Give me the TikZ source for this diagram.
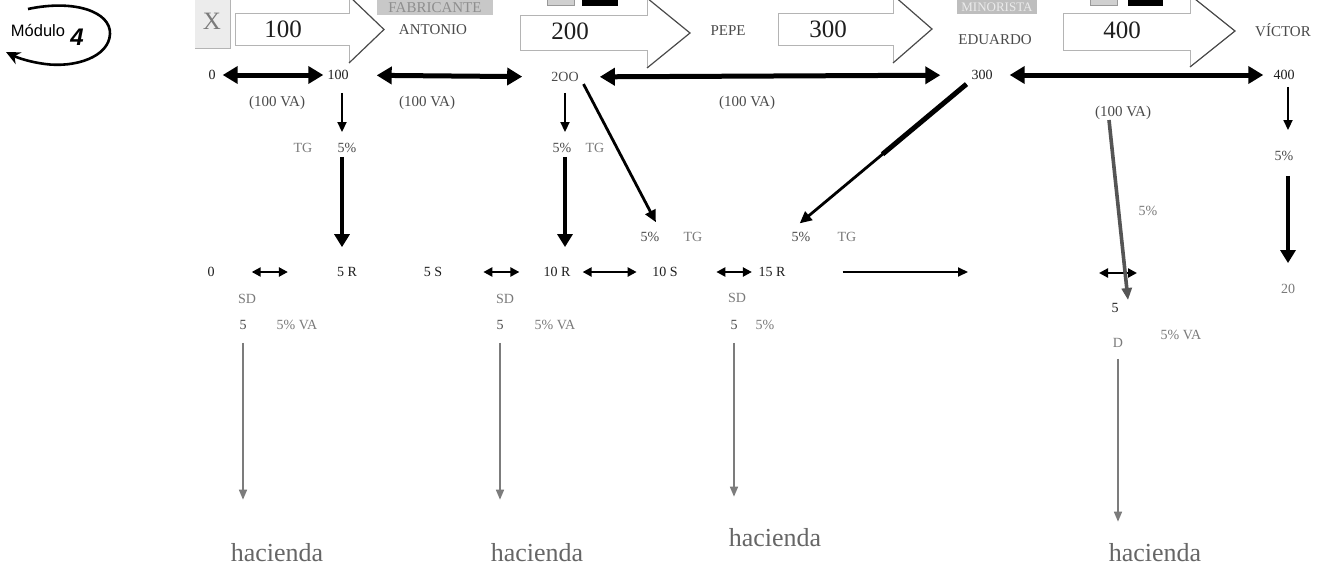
\documentclass[tikz,border=0pt]{standalone}
\usepackage{fontspec}
\setmainfont{Liberation Serif}
\newfontfamily\logofont{Liberation Sans}
\usetikzlibrary{arrows.meta}

\definecolor{ink}{HTML}{1E1E1E}
\definecolor{soft}{HTML}{4A4A4A}
\definecolor{pale}{HTML}{7A7A7A}
\definecolor{rail}{HTML}{7C7C7C}
\definecolor{slab}{HTML}{555555}
\definecolor{boxgray}{HTML}{C8C8C8}
\definecolor{boxedge}{HTML}{B4B4B4}
\definecolor{xfill}{HTML}{ECECEC}
\definecolor{chipedge}{HTML}{999999}
\definecolor{chipfill}{HTML}{D0D0D0}

\tikzset{
  lbl/.style={inner sep=1pt, text=ink, font=\fontsize{14}{16}\selectfont},
  lblsoft/.style={lbl, text=soft},
  lblpale/.style={lbl, text=pale},
  vatxt/.style={lbl, text=soft, font=\fontsize{15}{17}\selectfont},
  numtxt/.style={inner sep=1pt, text=ink, font=\fontsize{25}{27}\selectfont},
  nametxt/.style={inner sep=1pt, text=soft, font=\fontsize{15}{17}\selectfont},
  hac/.style={inner sep=1pt, text=slab!90, font=\fontsize{26}{28}\selectfont},
  bigdbl/.style={line width=5pt, {Triangle[length=15pt,width=17pt]}-{Triangle[length=15pt,width=17pt]}},
  smdbl/.style={line width=2.2pt, {Triangle[length=9pt,width=9pt]}-{Triangle[length=9pt,width=9pt]}},
  thinarr/.style={line width=1.8pt, -{Triangle[length=10pt,width=9pt]}},
  thickarr/.style={line width=4.5pt, -{Triangle[length=13pt,width=15pt]}},
  medarr/.style={line width=2.8pt, -{Triangle[length=12pt,width=11pt]}},
  flatarr/.style={line width=2pt, -{Triangle[length=10pt,width=9pt]}},
  grayarr/.style={draw=rail, line width=1.6pt, -{Triangle[length=10pt,width=8pt]}},
  slant/.style={draw=slab, line width=3.6pt, -{Triangle[length=12pt,width=10pt]}},
  bodyedge/.style={draw=boxedge, line width=1pt},
  headedge/.style={draw=soft, line width=1.2pt},
}

% outline arrow: #1 left, #2 head base, #3 tip x, #4 body top, #5 body bottom, #6 head top, #7 head bottom
\newcommand\OutlineArrow[7]{%
  \fill[white] (#1,#4) -- (#2,#4) -- (#2,#6) -- (#3,{(#6+#7)/2}) -- (#2,#7) -- (#2,#5) -- (#1,#5) -- cycle;
  \draw[bodyedge] (#2,#6) -- (#2,#4) -- (#1,#4) -- (#1,#5) -- (#2,#5) -- (#2,#7);
  \draw[headedge] (#2,#6) -- (#3,{(#6+#7)/2}) -- (#2,#7);
}

\begin{document}
\begin{tikzpicture}[x=1pt,y=-1pt]
\useasboundingbox (0,0) rectangle (1328,570);
\fill[white] (0,0) rectangle (1328,570);

% module badge
\draw[line width=2.6pt, -{Stealth[length=14pt,width=13pt]}]
  (28,9) .. controls (75,-1) and (111,12) .. (110,34)
         .. controls (109,57) and (75,68) .. (45,64)
         .. controls (30,62) and (18,58) .. (6,52);
\node[inner sep=0pt, anchor=base, font=\logofont\fontsize{16.5}{18}\selectfont] (modtxt) at (38,36) {Módulo};
\node[inner sep=0pt, anchor=base, font=\logofont\bfseries\itshape\fontsize{24}{26}\selectfont] (modnum) at (77,45) {4};

% top band: X box, tags and outline arrows
\fill[xfill] (195,-2) rectangle (230,48);
\draw[draw=boxedge] (195,48) -- (230,48) -- (230,-2);
\node[inner sep=0pt, text=pale, font=\fontsize{25}{27}\selectfont] (xmark) at (212,21) {X};

\fill[boxgray] (377,-2) rectangle (493,15);
\node[inner sep=0pt, text=pale!85, font=\fontsize{15}{17}\selectfont] (fab) at (435,8) {FABRICANTE};
\fill[boxgray!95!black] (957,-2) rectangle (1037,14);
\node[inner sep=0pt, text=white!92!black, font=\fontsize{13}{15}\selectfont] (mino) at (997,7) {MINORISTA};

\draw[draw=chipedge, fill=chipfill] (547,-3) rectangle (574,5);
\fill[black] (582,-3) rectangle (618,6);
\draw[draw=chipedge, fill=chipfill] (1090,-3) rectangle (1117,5);
\fill[black] (1128,-3) rectangle (1163,6);

\OutlineArrow{235}{349}{384}{13}{45}{-4}{63}
\OutlineArrow{520}{647}{690}{15}{50}{-2}{68}
\OutlineArrow{778}{893}{932}{13}{45}{-5}{63}
\OutlineArrow{1063}{1190}{1235}{13}{50}{-5}{67}

\node[numtxt] (v100) at (283,29) {100};
\node[numtxt] (v200) at (570,31) {200};
\node[numtxt] (v300) at (828,29) {300};
\node[numtxt] (v400) at (1122,30) {400};

\node[nametxt] (antonio) at (433,30) {ANTONIO};
\node[nametxt] (pepe) at (728,31) {PEPE};
\node[nametxt] (eduardo) at (995,40) {EDUARDO};
\node[nametxt] (victor) at (1283,30) {VÍCTOR};

% value chain row
\node[lbl] (r0) at (212,75) {0};
\node[lbl] (r100) at (338,75) {100};
\node[lblsoft] (r200) at (565,77) {2OO};
\node[lbl] (r300) at (982,75) {300};
\node[lbl] (r400) at (1284,75) {400};

\draw[bigdbl, shorten <=6pt, shorten >=3pt] (r0) -- (r100);
\draw[bigdbl, shorten <=27pt, shorten >=28pt] (r100) -- (r200);
\draw[bigdbl, shorten <=20pt, shorten >=30pt] (r200) -- (r300);
\draw[bigdbl, shorten <=16pt, shorten >=9pt] (r300) -- (r400);

\node[vatxt] (va1) at (277,103) {(100 VA)};
\node[vatxt] (va2) at (427,103) {(100 VA)};
\node[vatxt] (va3) at (747,103) {(100 VA)};
\node[vatxt] (va4) at (1123,113) {(100 VA)};

% tax lines
\coordinate (colA) at (342,0);
\coordinate (colB) at (565,0);
\coordinate (colE) at (1288,0);

\node[lblsoft] (p1) at (347,148) {5\%};
\node[lblpale] (tg1) at (303,148) {TG};
\node[lblsoft] (p2) at (562,148) {5\%};
\node[lblpale] (tg2) at (595,148) {TG};
\node[lblsoft] (p3) at (650,237) {5\%};
\node[lblpale] (tg3) at (693,237) {TG};
\node[lblsoft] (p4) at (801,237) {5\%};
\node[lblpale] (tg4) at (847,237) {TG};
\node[lblpale] (p5) at (1148,211) {5\%};
\node[lblsoft] (p6) at (1284,156) {5\%};
\node[lblpale] (n20) at (1288,289) {20};

% ledger row
\node[lbl] (b0) at (211,272) {0};
\node[lbl] (b5R) at (347,272) {5 R};
\node[lbl] (b5S) at (433,272) {5 S};
\node[lbl] (b10R) at (557,272) {10 R};
\node[lbl] (b10S) at (665,272) {10 S};
\node[lbl] (b15R) at (772,272) {15 R};
\coordinate (runEnd) at (968,272);
\coordinate (swapL) at (1099,273);
\coordinate (swapR) at (1137,273);

\draw[thinarr, shorten <=12pt, shorten >=10pt] (r100.south -| colA) -- (p1.north -| colA);
\draw[thickarr, shorten <=3pt, shorten >=19pt] (p1.south -| colA) -- (b5R.north -| colA);
\draw[thinarr, shorten <=10pt, shorten >=10pt] (r200.south -| colB) -- (p2.north -| colB);
\draw[thickarr, shorten <=3pt, shorten >=19pt] (p2.south -| colB) -- (b10R.north -| colB);
\draw[medarr, shorten <=8pt, shorten >=10pt] (r200.east) -- (p3.north east);
\draw[line width=5pt, shorten <=5pt, shorten >=120pt] (r300.south west) -- (p4.north west);
\draw[medarr, shorten <=5pt, shorten >=12pt] (r300.south west) -- (p4.north west);
\draw[thinarr, shorten <=6pt, shorten >=20pt] (r400.south -| colE) -- (p6.north -| colE);
\draw[thickarr, shorten <=14pt, shorten >=20pt] (p6.south -| colE) -- (n20.north -| colE);

\draw[smdbl, shorten <=36pt, shorten >=48pt] (b0) -- (b5R);
\draw[smdbl, shorten <=40pt, shorten >=23pt] (b5S) -- (b10R);
\draw[smdbl, shorten <=11pt, shorten >=14.5pt] (b10R) -- (b10S);
\draw[smdbl, shorten <=37.5pt, shorten >=5.5pt] (b10S) -- (b15R);
\draw[flatarr, shorten <=56pt] (b15R.east) -- (runEnd);
\draw[smdbl] (swapL) -- (swapR);

% payments to the treasury
\node[lblpale] (sd1) at (247,299) {SD};
\node[lblpale] (sd2) at (505,299) {SD};
\node[lblpale] (sd3) at (737,298) {SD};
\node[lblsoft] (f1) at (243,325) {5};
\node[lblpale] (fv1) at (297,325) {5\% VA};
\node[lblsoft] (f2) at (500,325) {5};
\node[lblpale] (fv2) at (555,325) {5\% VA};
\node[lblsoft] (f3) at (734,325) {5};
\node[lblpale] (fv3) at (765,325) {5\%};
\node[lbl] (f4) at (1115,308) {5};
\node[lblpale] (dD) at (1118,343) {D};
\node[lblpale] (fv4) at (1181,335) {5\% VA};

\coordinate (slantTop) at (1109,120);
\coordinate (slantEnd) at (1128,300);
\draw[slant] (slantTop) -- (slantEnd);

\node[hac] (h1) at (277,553) {hacienda};
\node[hac] (h2) at (537,553) {hacienda};
\node[hac] (h3) at (775,538) {hacienda};
\node[hac] (h4) at (1155,553) {hacienda};

\draw[grayarr, shorten <=12pt, shorten >=43pt] (f1.south) -- (h1.north -| f1);
\draw[grayarr, shorten <=12pt, shorten >=43pt] (f2.south) -- (h2.north -| f2);
\draw[grayarr, shorten <=12pt, shorten >=31pt] (f3.south) -- (h3.north -| f3);
\draw[grayarr, shorten <=10pt, shorten >=21pt] (dD.south) -- (h4.north -| dD);
\end{tikzpicture}
\end{document}
